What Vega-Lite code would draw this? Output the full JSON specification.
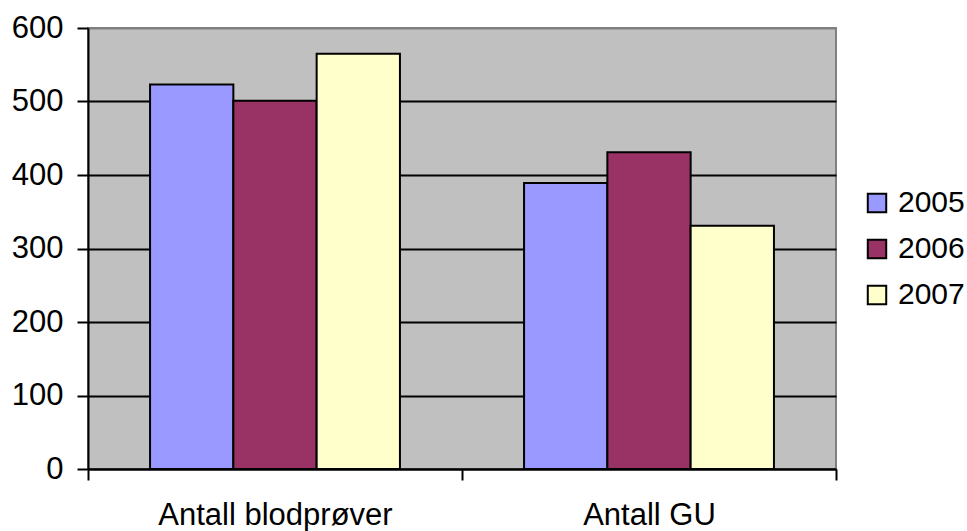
{
  "$schema": "https://vega.github.io/schema/vega-lite/v6.json",
  "autosize": "none",
  "width": 748,
  "height": 441,
  "padding": {"left": 88, "top": 28, "right": 131, "bottom": 62},
  "background": "white",
  "config": {
    "font": "Liberation Sans",
    "view": {"fill": "#C0C0C0", "stroke": "#808080", "strokeWidth": 2}
  },
  "data": {
    "values": [
      {"kategori": "Antall blodprøver", "år": "2005", "antall": 523},
      {"kategori": "Antall blodprøver", "år": "2006", "antall": 501},
      {"kategori": "Antall blodprøver", "år": "2007", "antall": 565},
      {"kategori": "Antall GU", "år": "2005", "antall": 389},
      {"kategori": "Antall GU", "år": "2006", "antall": 431},
      {"kategori": "Antall GU", "år": "2007", "antall": 331}
    ]
  },
  "mark": {"type": "bar", "stroke": "black", "strokeWidth": 2},
  "encoding": {
    "x": {
      "field": "kategori",
      "type": "nominal",
      "sort": ["Antall blodprøver", "Antall GU"],
      "scale": {"paddingInner": 0, "paddingOuter": 0},
      "axis": {
        "title": null,
        "labelAngle": 0,
        "labelFontSize": 31,
        "labelColor": "black",
        "labelLimit": 500,
        "labelPadding": 20,
        "tickBand": "extent",
        "tickSize": 11,
        "tickWidth": 2,
        "tickColor": "black",
        "domainColor": "black",
        "domainWidth": 2,
        "grid": false
      }
    },
    "xOffset": {"field": "år", "type": "nominal", "scale": {"paddingInner": 0, "paddingOuter": 0.745}},
    "y": {
      "field": "antall",
      "type": "quantitative",
      "scale": {"domain": [0, 600], "nice": false},
      "axis": {
        "title": null,
        "values": [0, 100, 200, 300, 400, 500, 600],
        "labelFontSize": 31,
        "labelColor": "black",
        "labelPadding": 14,
        "tickSize": 11,
        "tickWidth": 2,
        "tickColor": "black",
        "domainColor": "black",
        "domainWidth": 2,
        "grid": true,
        "gridWidth": 2,
        "gridColor": {"condition": {"test": "datum.value == 600", "value": "#808080"}, "value": "black"}
      }
    },
    "color": {
      "field": "år",
      "type": "nominal",
      "scale": {"domain": ["2005", "2006", "2007"], "range": ["#9999FF", "#993366", "#FFFFCC"]},
      "legend": {
        "title": null,
        "orient": "none",
        "legendX": 774,
        "legendY": 160,
        "padding": 0,
        "symbolType": "square",
        "symbolSize": 340,
        "symbolStrokeColor": "black",
        "symbolStrokeWidth": 2,
        "symbolOpacity": 1,
        "labelFontSize": 30,
        "labelColor": "black",
        "labelOffset": 6,
        "rowPadding": 16
      }
    }
  }
}
